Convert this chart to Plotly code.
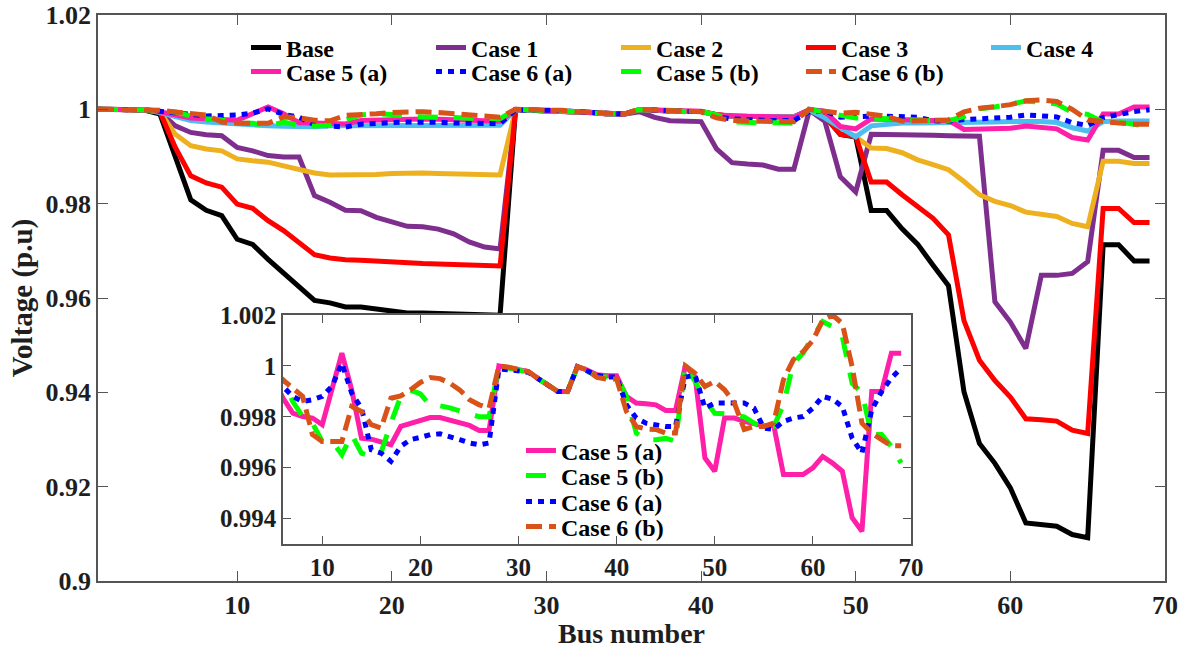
import plotly.graph_objects as go

# ---------------- data ----------------
bus = list(range(1, 70))

base = [1.0, 0.99997, 0.99993, 0.99984, 0.99902, 0.99009, 0.98079, 0.97858, 0.97745, 0.97245,
        0.97135, 0.96819, 0.96526, 0.96237, 0.95950, 0.95897, 0.95809, 0.95808, 0.95761, 0.95732,
        0.95683, 0.95683, 0.95676, 0.95660, 0.95643, 0.95636, 0.95634, 0.99993, 0.99985, 0.99973,
        0.99971, 0.99961, 0.99935, 0.99901, 0.99895, 0.99992, 0.99975, 0.99959, 0.99954, 0.99954,
        0.99884, 0.99855, 0.99851, 0.99850, 0.99841, 0.99840, 0.99979, 0.99854, 0.99470, 0.99415,
        0.97854, 0.97853, 0.97466, 0.97142, 0.96694, 0.96258, 0.94011, 0.92917, 0.92495, 0.91975,
        0.91230, 0.91200, 0.91161, 0.90985, 0.90919, 0.97129, 0.97129, 0.96786, 0.96786]

case1 = [1.0, 1.0, 0.99995, 0.9999, 0.9994, 0.9965, 0.9951, 0.9946, 0.9944, 0.9919,
         0.9912, 0.9902, 0.9899, 0.9899, 0.9817, 0.9803, 0.9786, 0.9785, 0.9771, 0.9762,
         0.9752, 0.9751, 0.9746, 0.9736, 0.9719, 0.9708, 0.9704, 0.99993, 0.99985, 0.9997,
         0.9997, 0.9996, 0.9993, 0.9990, 0.99895, 0.9995, 0.9983, 0.9976, 0.9974, 0.9974,
         0.9916, 0.9887, 0.9884, 0.9882, 0.9873, 0.9873, 0.9998, 0.9975, 0.9857, 0.9825,
         0.9947, 0.9947, 0.9946, 0.9946, 0.9945, 0.9944, 0.9944, 0.9943, 0.9592, 0.9549,
         0.9493, 0.9648, 0.9648, 0.9652, 0.9677, 0.9913, 0.9913, 0.9898, 0.9898]

case2 = [1.0, 1.0, 0.99995, 0.9999, 0.9995, 0.9947, 0.9923, 0.9916, 0.9912, 0.9895,
         0.9891, 0.9888, 0.9880, 0.9872, 0.9865, 0.9861, 0.9861, 0.9861, 0.9862, 0.9864,
         0.9865, 0.9865, 0.9864, 0.9863, 0.9862, 0.9861, 0.9861, 0.99993, 0.99985, 0.99973,
         0.99971, 0.99961, 0.99935, 0.99901, 0.99895, 0.99992, 0.99975, 0.99959, 0.99954, 0.99954,
         0.99884, 0.99855, 0.99851, 0.99850, 0.99841, 0.99840, 0.9998, 0.9985, 0.9950, 0.9942,
         0.9918, 0.9917, 0.9908, 0.9893, 0.9883, 0.9872, 0.9847, 0.9819, 0.9805, 0.9796,
         0.9782, 0.9778, 0.9773, 0.9758, 0.9751, 0.9890, 0.9890, 0.9885, 0.9885]

case3 = [1.0, 1.0, 0.99995, 0.9999, 0.9995, 0.9919, 0.9859, 0.9844, 0.9835, 0.9799,
         0.9790, 0.9764, 0.9743, 0.9718, 0.9692, 0.9685, 0.9681, 0.9680, 0.9678, 0.9675,
         0.9674, 0.9673, 0.9672, 0.9671, 0.9670, 0.9669, 0.9668, 0.99993, 0.99985, 0.99973,
         0.99971, 0.99961, 0.99935, 0.99901, 0.99895, 0.99992, 0.99975, 0.99959, 0.99954, 0.99954,
         0.99884, 0.99855, 0.99851, 0.99850, 0.99841, 0.99840, 0.9998, 0.9985, 0.9947, 0.9943,
         0.9846, 0.9846, 0.9819, 0.9794, 0.9769, 0.9734, 0.9552, 0.9468, 0.9425, 0.9390,
         0.9344, 0.9342, 0.9339, 0.9320, 0.9313, 0.9790, 0.9790, 0.9760, 0.9760]

case4 = [1.0, 1.0, 0.99995, 0.9999, 0.9993, 0.9984, 0.9976, 0.9973, 0.9971, 0.9967,
         0.9966, 0.9965, 0.9964, 0.9963, 0.9963, 0.9965, 0.9965, 0.9966, 0.9966, 0.9966,
         0.9966, 0.9966, 0.9966, 0.9966, 0.9966, 0.9966, 0.9966, 0.99993, 0.99985, 0.99973,
         0.99971, 0.99961, 0.99935, 0.99901, 0.99895, 0.99992, 0.99975, 0.99959, 0.99954, 0.99954,
         0.9987, 0.9986, 0.9985, 0.9985, 0.9984, 0.9984, 0.9998, 0.9982, 0.9961, 0.9942,
         0.9965, 0.9969, 0.9971, 0.9971, 0.9971, 0.9971, 0.9972, 0.9972, 0.9973, 0.9974,
         0.9975, 0.9974, 0.9972, 0.9961, 0.9954, 0.9974, 0.9975, 0.9975, 0.9975]

case5a = [1.0, 1.0, 0.99995, 0.9999, 0.9995, 0.99873, 0.99814, 0.99801, 0.99795, 0.99769,
          0.9991, 1.0005, 0.99906, 0.99716, 0.99712, 0.99703, 0.99690, 0.99762, 0.99775, 0.99784,
          0.99797, 0.99797, 0.99788, 0.99778, 0.99766, 0.99746, 0.99746, 1.0, 0.99991, 0.99984,
          0.99978, 0.9995, 0.99925, 0.99899, 0.99899, 0.99997, 0.99984, 0.99965, 0.99961, 0.99961,
          0.9988, 0.99854, 0.99851, 0.99847, 0.99825, 0.99825, 1.0, 0.99958, 0.99638, 0.99586,
          0.99795, 0.99795, 0.99782, 0.99775, 0.99764, 0.99769, 0.99573, 0.99573, 0.99573, 0.99599,
          0.99644, 0.99618, 0.99586, 0.99403, 0.9935, 0.99899, 0.99899, 1.0005, 1.0005]

case6a = [1.0, 1.0, 0.99995, 0.9999, 0.9996, 0.99919, 0.9988, 0.9986, 0.99867, 0.9988,
          0.9992, 1.0001, 0.99893, 0.99834, 0.9967, 0.99657, 0.99625, 0.99684, 0.9971, 0.99719,
          0.9973, 0.99733, 0.99723, 0.9971, 0.99697, 0.9969, 0.99697, 0.99987, 0.99985, 0.99978,
          0.99975, 0.9995, 0.99925, 0.99899, 0.99899, 0.99997, 0.9998, 0.99963, 0.99956, 0.99956,
          0.99847, 0.99795, 0.99775, 0.99769, 0.99762, 0.99762, 0.99956, 0.99963, 0.99834, 0.99854,
          0.99856, 0.99854, 0.99854, 0.99834, 0.99756, 0.9975, 0.99782, 0.99795, 0.99801, 0.99834,
          0.9988, 0.99869, 0.9984, 0.99716, 0.99657, 0.99827, 0.99899, 0.99952, 0.99991]

case5b = [1.0, 1.0, 0.99995, 0.9999, 0.9997, 0.99945, 0.9986, 0.99801, 0.99775, 0.99703,
          0.99703, 0.99651, 0.9973, 0.99657, 0.99644, 0.9966, 0.99775, 0.9988, 0.99905, 0.9989,
          0.99845, 0.99843, 0.99835, 0.99825, 0.9981, 0.998, 0.998, 1.0, 0.99991, 0.99984,
          0.99975, 0.9995, 0.99925, 0.999, 0.999, 0.99997, 0.9998, 0.99958, 0.99956, 0.99956,
          0.9988, 0.99736, 0.9971, 0.9971, 0.99715, 0.99704, 1.0, 0.99939, 0.99867, 0.99814,
          0.99812, 0.99808, 0.998, 0.99775, 0.99756, 0.99762, 0.99847, 1.0001, 1.0005, 1.00115,
          1.00174, 1.00154, 1.00115, 0.99932, 0.99893, 0.9973, 0.9973, 0.99684, 0.99618]

case6b = [1.0, 1.0, 0.99995, 0.9999, 0.9998, 0.99945, 0.99912, 0.9988, 0.9973, 0.99703,
          0.99703, 0.99703, 0.9984, 0.99821, 0.99769, 0.99756, 0.99873, 0.99882, 0.99906, 0.99935,
          0.99954, 0.9995, 0.99932, 0.99906, 0.99867, 0.99847, 0.99834, 1.0, 0.99995, 0.99984,
          0.99978, 0.9995, 0.99925, 0.999, 0.99899, 0.99997, 0.99984, 0.99955, 0.99948, 0.99948,
          0.99821, 0.99762, 0.99752, 0.9975, 0.99736, 0.99736, 1.0, 0.99971, 0.99919, 0.99939,
          0.99906, 0.99854, 0.9975, 0.99762, 0.99762, 0.99775, 0.99945, 1.00024, 1.00056, 1.001,
          1.0018, 1.002, 1.00167, 0.99997, 0.99775, 0.99736, 0.9971, 0.99686, 0.99686]

main_x_ticks = [10, 20, 30, 40, 50, 60, 70]
main_y_ticks = [0.9, 0.92, 0.94, 0.96, 0.98, 1.0, 1.02]
main_y_text = ["0.9", "0.92", "0.94", "0.96", "0.98", "1", "1.02"]
inset_x_ticks = [10, 20, 30, 40, 50, 60, 70]
inset_y_ticks = [0.994, 0.996, 0.998, 1.0, 1.002]
inset_y_text = ["0.994", "0.996", "0.998", "1", "1.002"]

# ---------------- styles ----------------
W, H = 1186, 649
FONT = "Liberation Serif"
AX = "#555555"
TXT = "#1e1e1e"

main_series = [
    ("Base", base, "#000000", "solid", "legend"),
    ("Case 1", case1, "#7E2F8E", "solid", "legend"),
    ("Case 2", case2, "#EDB120", "solid", "legend"),
    ("Case 3", case3, "#FF0000", "solid", "legend"),
    ("Case 4", case4, "#4DBEEE", "solid", "legend"),
    ("Case 5 (a)", case5a, "#FF1FA8", "solid", "legend2"),
    ("Case 6 (a)", case6a, "#0000FF", "6px,6px", "legend2"),
    ("Case 5 (b)", case5b, "#00FF00", "20px,16px", "legend2"),
    ("Case 6 (b)", case6b, "#D95319", "16px,7px", "legend2"),
]
inset_series = [
    ("Case 5 (a)", case5a, "#FF1FA8", "solid", "legend3"),
    ("Case 5 (b)", case5b, "#00FF00", "20px,16px", "legend4"),
    ("Case 6 (a)", case6a, "#0000FF", "6px,6px", "legend5"),
    ("Case 6 (b)", case6b, "#D95319", "16px,7px", "legend6"),
]

fig = go.Figure()
for name, vals, color, dash, lg in main_series:
    fig.add_trace(go.Scatter(x=bus, y=vals, mode="lines", name=name, legend=lg,
                             line=dict(color=color, width=5, dash=dash),
                             xaxis="x", yaxis="y"))
for name, vals, color, dash, lg in inset_series:
    fig.add_trace(go.Scatter(x=bus, y=vals, mode="lines", name=name, legend=lg,
                             line=dict(color=color, width=5, dash=dash),
                             xaxis="x2", yaxis="y2"))

# plot-area geometry in pixels
L, R, T, B = 98, 1165, 15, 581
pw, ph = R - L, B - T
ix0, ix1, iy0, iy1 = 283, 911, 315, 544


def px_x(v):
    return (v - L) / pw


def px_y(v):
    return (B - v) / ph


def leg(text_x, ypix):
    # legend item text starts ~41 px right of the legend's left edge
    return dict(x=px_x(text_x - 41), y=px_y(ypix), xref="paper", yref="paper",
                xanchor="left", yanchor="middle", orientation="h",
                bgcolor="rgba(0,0,0,0)", borderwidth=0,
                font=dict(family=FONT, size=24, color="black", weight="bold"),
                itemwidth=30, entrywidth=140, entrywidthmode="pixels",
                tracegroupgap=0)


def axis_common(size):
    return dict(showgrid=False, zeroline=False, showline=True, linecolor=AX, linewidth=1.5,
                mirror="ticks", ticks="inside", tickcolor=AX, tickwidth=1.2,
                tickfont=dict(family=FONT, size=size, color=TXT, weight="bold"))


fig.update_layout(
    width=W, height=H,
    margin=dict(l=L, r=W - R, t=T, b=H - B, autoexpand=False),
    paper_bgcolor="white", plot_bgcolor="white",
    font=dict(family=FONT, size=24, color=TXT, weight="bold"),
    xaxis=dict(range=[1, 70], tickvals=main_x_ticks, ticklen=10,
               title=dict(text="Bus number", font=dict(family=FONT, size=28, color=TXT, weight="bold"), standoff=4),
               **axis_common(26)),
    yaxis=dict(range=[0.9, 1.02], tickvals=main_y_ticks, ticktext=main_y_text, ticklen=10,
               title=dict(text="Voltage (p.u)", font=dict(family=FONT, size=29, color=TXT, weight="bold"), standoff=4),
               **axis_common(26)),
    xaxis2=dict(domain=[px_x(ix0), px_x(ix1)], anchor="y2", range=[6, 70], tickvals=inset_x_ticks, ticklen=8,
                **axis_common(25)),
    yaxis2=dict(domain=[px_y(iy1), px_y(iy0)], anchor="x2", range=[0.993, 1.002], tickvals=inset_y_ticks,
                ticktext=inset_y_text, ticklen=8, **axis_common(25)),
    legend=leg(287, 48),
    legend2=leg(287, 72),
    legend3=leg(562, 451),
    legend4=leg(562, 476),
    legend5=leg(562, 502),
    legend6=leg(562, 527),
    showlegend=True,
)

fig.write_html("out.html")
